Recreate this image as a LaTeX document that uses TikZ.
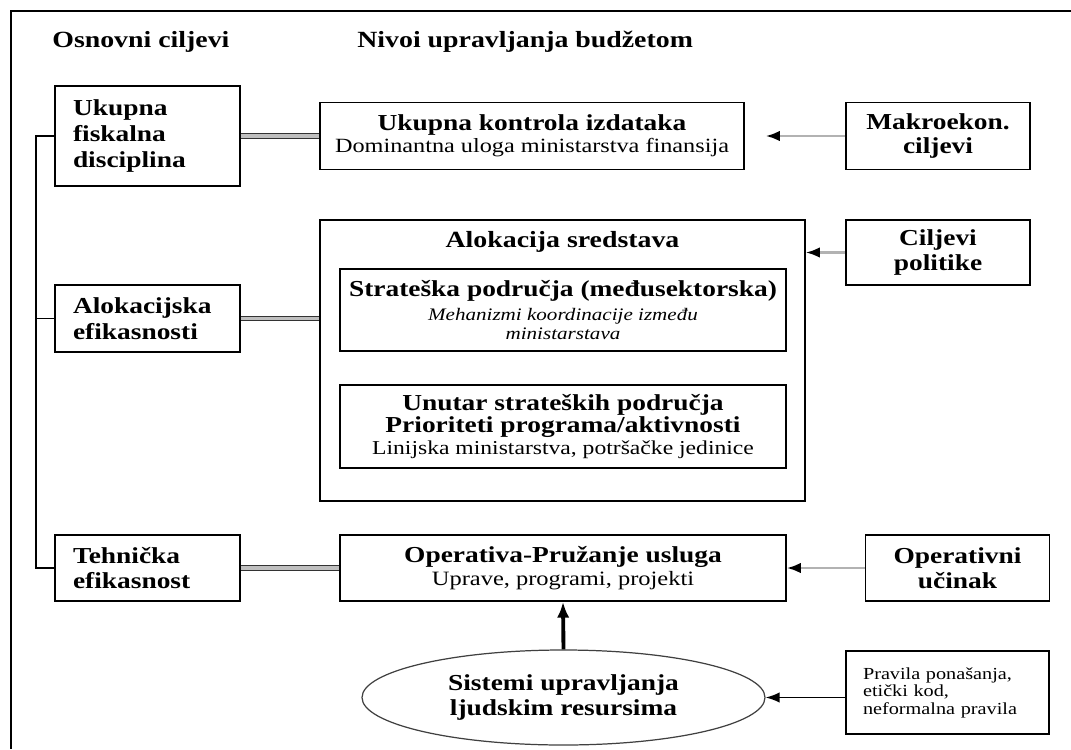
\documentclass[tikz,border=0pt]{standalone}
\usepackage{fontspec}
\setmainfont{Liberation Serif}[FakeStretch=1.2]
\usepackage{tikz}
\usetikzlibrary{shapes.geometric, arrows.meta, positioning, calc}

\begin{document}
\begin{tikzpicture}[
      box/.style={draw, line width=0.9pt, align=center, inner sep=2pt},
      lbox/.style={box, align=left, text width=2.98cm, inner xsep=0.36cm,
                   minimum width=3.70cm, font=\bfseries\fontsize{13}{14.7}\selectfont},
      rbox/.style={box, minimum width=3.68cm,
                   font=\bfseries\fontsize{13}{14.2}\selectfont},
      mbox/.style={box, minimum width=8.92cm, font=\fontsize{11.5}{12.5}\selectfont},
      head/.style={inner sep=0pt, font=\bfseries\fontsize{13.2}{15}\selectfont},
      hrm/.style={draw=black!75, ellipse, line width=0.7pt, align=center,
                  minimum width=8.06cm, minimum height=1.90cm,
                  font=\bfseries\fontsize{13}{14.2}\selectfont},
      dlink/.style={draw=black!80, line width=0.7pt, double=gray!50, double distance=1.8pt},
      garr/.style={draw=gray!60, line width=1.4pt, -{Latex[black, length=8pt, width=6pt]}},
      barr/.style={line width=1pt, -{Latex[length=8pt, width=6pt]}},
      uparr/.style={line width=2.2pt, -{Latex[length=9pt, width=7pt]}}
    ]
    \useasboundingbox (0,0) rectangle (21.42,-14.98);
    % okvir
    \draw[line width=0.7pt] (21.42,-0.22) -- (0.22,-0.22) -- (0.22,-14.98);

    % naslovi kolona
    \node[head, anchor=west] (hosn) at (1.04,-0.84) {Osnovni ciljevi};
    \node[head, anchor=west] (hniv) at (7.14,-0.84) {Nivoi upravljanja budžetom};

    % osnovni ciljevi
    \node[lbox, minimum height=2.00cm] (fisk)   at (2.95,-2.72)  {Ukupna\\fiskalna\\disciplina};
    \node[lbox, minimum height=1.34cm] (alokef) at (2.95,-6.37)  {Alokacijska\\efikasnosti};
    \node[lbox, minimum height=1.32cm] (tehn)   at (2.95,-11.36) {Tehnička\\efikasnost};

    % nivoi upravljanja
    \node[mbox, minimum width=8.48cm, minimum height=1.34cm] (kontrola) at (10.64,-2.72)
      {{\bfseries\fontsize{13}{12.5}\selectfont Ukupna kontrola izdataka}\\
       Dominantna uloga ministarstva finansija};
    \node[box, minimum width=9.70cm, minimum height=5.62cm] (alok) at (11.25,-7.21) {};
    \node[head] (aloknasl) at (11.25,-4.84) {Alokacija sredstava};
    \node[mbox, minimum height=1.64cm, font=\fontsize{10}{10.6}\selectfont] (strat) at (11.26,-6.20)
      {{\bfseries\fontsize{13}{13}\selectfont Strateška područja (međusektorska)}\\[3pt]
       {\itshape Mehanizmi koordinacije između}\\{\itshape ministarstava}};
    \node[mbox, minimum height=1.66cm, font=\fontsize{11.2}{12.3}\selectfont] (unutar) at (11.26,-8.53)
      {{\bfseries\fontsize{13}{12.3}\selectfont Unutar strateških područja}\\
       {\bfseries\fontsize{13}{12.3}\selectfont Prioriteti programa/aktivnosti}\\
       Linijska ministarstva, potršačke jedinice};
    \node[mbox, minimum height=1.32cm, font=\fontsize{11.6}{12.7}\selectfont] (operativa) at (11.26,-11.36)
      {{\bfseries\fontsize{13}{12.7}\selectfont Operativa-Pružanje usluga}\\
       Uprave, programi, projekti};
    \node[hrm] (hr) at (11.27,-13.95) {Sistemi upravljanja\\ljudskim resursima};

    % vanjski ciljevi
    \node[rbox, minimum height=1.34cm] (makro)      at (18.76,-2.72)  {Makroekon.\\ciljevi};
    \node[rbox, minimum height=1.30cm] (ciljpol)    at (18.76,-5.05)  {Ciljevi\\politike};
    \node[rbox, minimum height=1.32cm] (operucinak) at (19.15,-11.36) {Operativni\\učinak};
    \node[box, align=left, text width=3.38cm, inner xsep=0.34cm, minimum height=1.66cm,
          font=\fontsize{9.6}{10}\selectfont] (pravila) at (18.95,-13.85)
      {Pravila ponašanja,\\etički kod,\\neformalna pravila};

    % veze
    \coordinate (kicma) at (0.72,0);
    \draw[line width=0.7pt] (fisk.west) -| (kicma |- tehn.west) -- (tehn.west);
    \draw[line width=0.7pt] (alokef.west) -- (alokef.west -| kicma);

    \draw[dlink] (fisk) -- (kontrola);
    \draw[dlink] (alokef.east) -- (alokef.east -| alok.west);
    \draw[dlink] (tehn) -- (operativa);

    \draw[garr, shorten >=0.42cm] (makro) -- (kontrola);
    \draw[garr] (ciljpol.west) -- (ciljpol.west -| alok.east);
    \draw[garr] (operucinak) -- (operativa);
    \draw[barr] (pravila.west |- hr.east) -- (hr.east);
    \draw[uparr] (hr.north) -- (operativa.south);
  \end{tikzpicture}
\end{document}
